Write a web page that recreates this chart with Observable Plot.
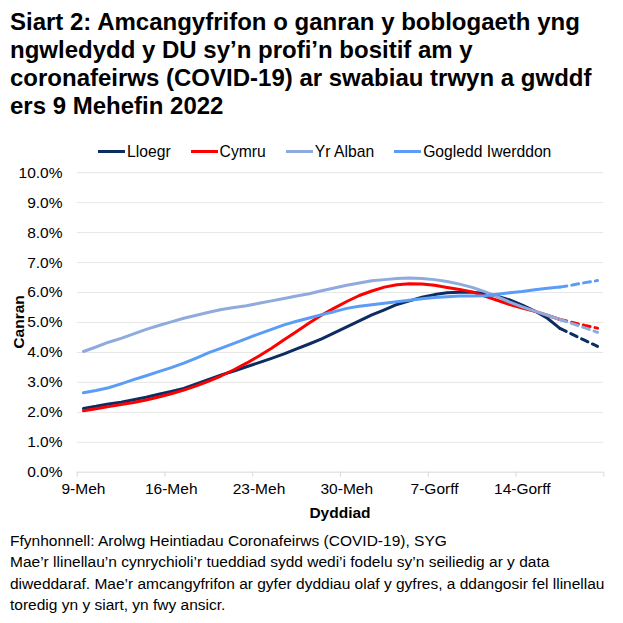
<!DOCTYPE html>
<html><head><meta charset="utf-8">
<script src="https://cdn.jsdelivr.net/npm/d3@7"></script>
<script src="https://cdn.jsdelivr.net/npm/@observablehq/plot@0.6"></script>
<style>
body{margin:0;background:#fff;font-family:"Liberation Sans",Arial,sans-serif;color:#000;width:623px;height:623px;overflow:hidden;position:relative}
#title{position:absolute;left:10px;top:8px;font-size:24px;font-weight:bold;line-height:28px;white-space:nowrap}
#legend{position:absolute;top:142px;left:98px;display:flex;gap:20px;font-size:15.7px;line-height:19px}
.item{display:flex;align-items:center}
.sw{width:27px;height:3px;margin-right:2px}
#chart{position:absolute;left:0;top:165px}
#foot{position:absolute;left:10px;top:530px;font-size:15.5px;line-height:21.3px;white-space:nowrap}
</style></head>
<body>
<div id="title">Siart 2: Amcangyfrifon o ganran y boblogaeth yng<br>ngwledydd y DU sy’n profi’n bositif am y<br>coronafeirws (COVID-19) ar swabiau trwyn a gwddf<br>ers 9 Mehefin 2022</div>
<div id="legend"></div>
<div id="chart"></div>
<div id="foot">Ffynhonnell: Arolwg Heintiadau Coronafeirws (COVID-19), SYG<br>Mae’r llinellau’n cynrychioli’r tueddiad sydd wedi’i fodelu sy’n seiliedig ar y data<br>diweddaraf. Mae’r amcangyfrifon ar gyfer dyddiau olaf y gyfres, a ddangosir fel llinellau<br>toredig yn y siart, yn fwy ansicr.</div>
<script>
const series = ["Lloegr", "Cymru", "Yr Alban", "Gogledd Iwerddon"];
const colors = ["#0b2d62", "#ff0000", "#8faadc", "#5b9cf6"];
const tickIdx = [0, 7, 14, 21, 28, 35];
const tickLabels = ["9-Meh", "16-Meh", "23-Meh", "30-Meh", "7-Gorff", "14-Gorff"];
const yTicks = [0,1,2,3,4,5,6,7,8,9,10];
const lastSolid = 38;

const lloegr = [2.13,2.20,2.28,2.34,2.42,2.50,2.60,2.70,2.80,2.95,3.10,3.25,3.38,3.52,3.66,3.80,3.95,4.12,4.28,4.45,4.65,4.85,5.05,5.25,5.42,5.60,5.72,5.84,5.93,5.99,6.01,6.01,5.97,5.88,5.75,5.58,5.38,5.14,4.80,4.60,4.40,4.20];
const cymru = [2.05,2.12,2.19,2.26,2.33,2.41,2.51,2.62,2.74,2.88,3.04,3.22,3.42,3.64,3.88,4.14,4.42,4.70,4.98,5.25,5.48,5.70,5.90,6.05,6.18,6.26,6.29,6.28,6.24,6.17,6.10,6.02,5.88,5.74,5.60,5.48,5.37,5.24,5.10,5.00,4.90,4.81];
const yrAlban = [4.03,4.18,4.34,4.47,4.62,4.77,4.90,5.02,5.14,5.24,5.34,5.43,5.50,5.56,5.64,5.72,5.80,5.88,5.96,6.06,6.15,6.24,6.32,6.39,6.43,6.47,6.48,6.47,6.43,6.37,6.28,6.17,6.03,5.86,5.68,5.52,5.38,5.24,5.10,4.96,4.82,4.67];
const gogledd = [2.65,2.73,2.82,2.95,3.09,3.22,3.36,3.49,3.64,3.81,3.99,4.14,4.30,4.46,4.62,4.77,4.92,5.04,5.15,5.26,5.36,5.47,5.54,5.59,5.64,5.69,5.74,5.79,5.83,5.86,5.88,5.88,5.89,5.94,5.99,6.03,6.09,6.14,6.18,6.25,6.33,6.40];
const values = [lloegr, cymru, yrAlban, gogledd];

const rows = [];
series.forEach((s, si) => values[si].forEach((v, i) => rows.push({s, i, v})));
const n = lloegr.length;
const boundaries = d3.range(-0.5, n + 0.5, 7);

// legend
const lg = document.getElementById("legend");
series.forEach((s, i) => {
  const it = document.createElement("div"); it.className = "item";
  const sw = document.createElement("div"); sw.className = "sw"; sw.style.background = colors[i];
  const tx = document.createElement("span"); tx.textContent = s;
  it.appendChild(sw); it.appendChild(tx); lg.appendChild(it);
});

const H = 360, top0 = 7.2, bot0 = 306.7;
const font = '"Liberation Sans", Arial, sans-serif';
const plot = Plot.plot({
  width: 623, height: H,
  marginLeft: 76.7, marginRight: 19.7, marginTop: top0, marginBottom: H - bot0,
  x: {domain: [-0.5, n - 0.5]},
  y: {domain: [0, 10]},
  color: {domain: series, range: colors},
  style: {fontFamily: font, fontSize: "15.5px", color: "#000", background: "transparent", overflow: "visible"},
  marks: [
    Plot.ruleY(yTicks.slice(1), {stroke: "#e6e6e6", strokeWidth: 1}),
    Plot.ruleY([0], {stroke: "#d9d9d9", strokeWidth: 1}),
    Plot.axisX({ticks: boundaries, tickSize: 5, tickFormat: () => "", stroke: "#d9d9d9", strokeOpacity: 1, label: null}),
    Plot.axisX({ticks: tickIdx, tickSize: 0, tickPadding: 11, tickFormat: d => tickLabels[tickIdx.indexOf(d)], label: null, fill: "#000"}),
    Plot.axisY({ticks: yTicks, tickSize: 0, tickPadding: 14.7, tickFormat: d => d.toFixed(1) + "%", label: null, fill: "#000"}),
    Plot.line(rows.filter(d => d.i <= lastSolid), {x: "i", y: "v", z: "s", stroke: "s", strokeWidth: 3, strokeLinejoin: "round"}),
    Plot.line(rows.filter(d => d.i >= lastSolid), {x: "i", y: "v", z: "s", stroke: "s", strokeWidth: 3, strokeDasharray: "7,5"})
  ]
});
const svg = d3.select(plot);
svg.append("text").attr("x", 340).attr("y", 347).attr("text-anchor", "middle").attr("dominant-baseline", "central")
  .attr("font-weight", "bold").attr("font-size", "15.5px").attr("font-family", font).attr("fill", "#000").text("Dyddiad");
svg.append("text").attr("transform", "translate(18," + ((top0 + bot0) / 2) + ") rotate(-90)").attr("text-anchor", "middle").attr("dominant-baseline", "central")
  .attr("font-weight", "bold").attr("font-size", "15.5px").attr("font-family", font).attr("fill", "#000").text("Canran");
document.getElementById("chart").appendChild(plot);
</script>
</body></html>
